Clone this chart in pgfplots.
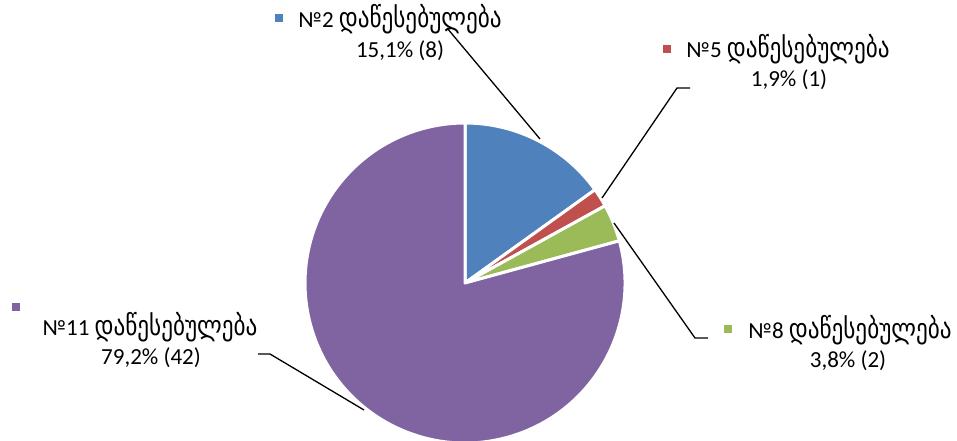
\documentclass[border=0pt]{standalone}
\usepackage{pgfplots}
\pgfplotsset{compat=1.18}
\usepackage{pgfplotstable}
\usepackage{fontspec}
\setmainfont{Carlito}
\newfontfamily\geo[Scale=1.2,FakeStretch=0.84]{DejaVu Sans}
\definecolor{cA}{HTML}{4F81BD}
\definecolor{cB}{HTML}{C0504D}
\definecolor{cC}{HTML}{9BBB59}
\definecolor{cD}{HTML}{8064A2}
\pgfplotstableread{
inst value
2 8
5 1
8 2
11 42
}\piedata
\pgfplotstablegetelem{0}{value}\of\piedata\let\va\pgfplotsretval
\pgfplotstablegetelem{1}{value}\of\piedata\let\vb\pgfplotsretval
\pgfplotstablegetelem{2}{value}\of\piedata\let\vc\pgfplotsretval
\pgfplotstablegetelem{3}{value}\of\piedata\let\vd\pgfplotsretval
\pgfmathsetmacro\tot{\va+\vb+\vc+\vd}
\pgfmathsetmacro\aA{90}
\pgfmathsetmacro\aB{\aA-360*\va/\tot}
\pgfmathsetmacro\aC{\aB-360*\vb/\tot}
\pgfmathsetmacro\aD{\aC-360*\vc/\tot}
\pgfmathsetmacro\aE{\aD-360*\vd/\tot}
\pgfmathsetmacro\pA{100*\va/\tot}
\pgfmathsetmacro\pB{100*\vb/\tot}
\pgfmathsetmacro\pC{100*\vc/\tot}
\pgfmathsetmacro\pD{100*\vd/\tot}
\newcommand\pct[1]{\pgfmathprintnumber[fixed,fixed zerofill,precision=1,use comma,assume math mode=true]{#1}\%}
\newcommand\vint[1]{\pgfmathprintnumber[int detect,assume math mode=true]{#1}}
\newcommand\lab{\fontsize{23}{27}\selectfont}
\begin{document}
\begin{tikzpicture}
\begin{axis}[
  scale only axis, width=957pt, height=441pt,
  xmin=0, xmax=957, ymin=0, ymax=441, y dir=reverse,
  hide axis, clip=true]
% slices
\def\cx{465}\def\cy{283}\def\R{160pt}
\filldraw[fill=cA, draw=white, line width=3pt, line join=round] (axis cs:\cx,\cy) -- ++(\aA:\R) arc[start angle=\aA, end angle=\aB, radius=\R] -- cycle;
\filldraw[fill=cB, draw=white, line width=3pt, line join=round] (axis cs:\cx,\cy) -- ++(\aB:\R) arc[start angle=\aB, end angle=\aC, radius=\R] -- cycle;
\filldraw[fill=cC, draw=white, line width=3pt, line join=round] (axis cs:\cx,\cy) -- ++(\aC:\R) arc[start angle=\aC, end angle=\aD, radius=\R] -- cycle;
\filldraw[fill=cD, draw=white, line width=3pt, line join=round] (axis cs:\cx,\cy) -- ++(\aD:\R) arc[start angle=\aD, end angle=\aE, radius=\R] -- cycle;
% leader lines
\draw[black, line width=1.3pt] (axis cs:540,139) -- (axis cs:447,28);
\draw[black, line width=1.3pt] (axis cs:602,198) -- (axis cs:677,88) -- (axis cs:690,88);
\draw[black, line width=1.3pt] (axis cs:614,223) -- (axis cs:695,338) -- (axis cs:708,338);
\draw[black, line width=1.3pt] (axis cs:364,410) -- (axis cs:270,354) -- (axis cs:258,354);
% keys
\fill[cA] (axis cs:275,14) rectangle (axis cs:283,22);
\fill[cB] (axis cs:663,45) rectangle (axis cs:671,53);
\fill[cC] (axis cs:724,325) rectangle (axis cs:732,333);
\fill[cD] (axis cs:12,303) rectangle (axis cs:20,311);
% labels
\node[anchor=base, inner sep=0pt, font=\lab] at (axis cs:400,28) {№\vint{2} {\geo დაწესებულება}};
\node[anchor=base, inner sep=0pt, font=\lab] at (axis cs:400,58) {\pct{\pA} (\vint{\va})};
\node[anchor=base, inner sep=0pt, font=\lab] at (axis cs:788,58) {№\vint{5} {\geo დაწესებულება}};
\node[anchor=base, inner sep=0pt, font=\lab] at (axis cs:789,87) {\pct{\pB} (\vint{\vb})};
\node[anchor=base, inner sep=0pt, font=\lab] at (axis cs:850,338) {№\vint{8} {\geo დაწესებულება}};
\node[anchor=base, inner sep=0pt, font=\lab] at (axis cs:848,367) {\pct{\pC} (\vint{\vc})};
\node[anchor=base, inner sep=0pt, font=\lab] at (axis cs:150,335) {№\vint{11} {\geo დაწესებულება}};
\node[anchor=base, inner sep=0pt, font=\lab] at (axis cs:151,364) {\pct{\pD} (\vint{\vd})};
\end{axis}
\pgfresetboundingbox
\path (current axis.south west) rectangle (current axis.north east);
\end{tikzpicture}
\end{document}
